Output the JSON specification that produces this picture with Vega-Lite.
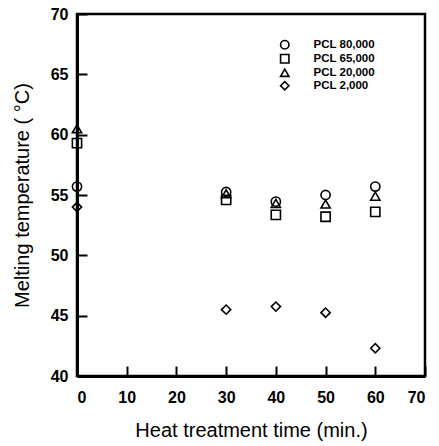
{
  "$schema": "https://vega.github.io/schema/vega-lite/v6.json",
  "autosize": {"type": "none"},
  "padding": {"left": 77, "top": 14, "right": 14, "bottom": 70},
  "width": 348,
  "height": 362,
  "background": "white",
  "config": {
    "view": {"stroke": "black", "strokeWidth": 2.5},
    "font": "Liberation Sans",
    "axis": {"grid": false, "domain": true, "domainColor": "black", "domainWidth": 3, "ticks": true, "tickColor": "black", "tickWidth": 2, "tickSize": -10, "labelColor": "black", "titleColor": "black", "zindex": 1}
  },
  "data": {
    "values": [
      {"time": 0, "tm": 55.7, "series": "PCL 80,000"},
      {"time": 30, "tm": 55.25, "series": "PCL 80,000"},
      {"time": 40, "tm": 54.45, "series": "PCL 80,000"},
      {"time": 50, "tm": 55.0, "series": "PCL 80,000"},
      {"time": 60, "tm": 55.7, "series": "PCL 80,000"},
      {"time": 0, "tm": 59.3, "series": "PCL 65,000"},
      {"time": 30, "tm": 54.6, "series": "PCL 65,000"},
      {"time": 40, "tm": 53.35, "series": "PCL 65,000"},
      {"time": 50, "tm": 53.2, "series": "PCL 65,000"},
      {"time": 60, "tm": 53.6, "series": "PCL 65,000"},
      {"time": 0, "tm": 60.5, "series": "PCL 20,000"},
      {"time": 30, "tm": 55.1, "series": "PCL 20,000"},
      {"time": 40, "tm": 54.3, "series": "PCL 20,000"},
      {"time": 50, "tm": 54.25, "series": "PCL 20,000"},
      {"time": 60, "tm": 54.9, "series": "PCL 20,000"},
      {"time": 0, "tm": 54.0, "series": "PCL 2,000"},
      {"time": 30, "tm": 45.5, "series": "PCL 2,000"},
      {"time": 40, "tm": 45.75, "series": "PCL 2,000"},
      {"time": 50, "tm": 45.25, "series": "PCL 2,000"},
      {"time": 60, "tm": 42.3, "series": "PCL 2,000"}
    ]
  },
  "mark": {"type": "point", "filled": false, "stroke": "black", "strokeWidth": 1.6, "size": 85, "opacity": 1, "clip": false},
  "encoding": {
    "x": {
      "field": "time", "type": "quantitative",
      "scale": {"domain": [0, 70], "nice": false},
      "axis": {"values": [0, 10, 20, 30, 40, 50, 60, 70], "labelPadding": 23, "labelFontSize": 16, "labelFontWeight": "bold", "title": "Heat treatment time (min.)", "titleFontSize": 20, "titleFontWeight": "normal", "titlePadding": 15}
    },
    "y": {
      "field": "tm", "type": "quantitative",
      "scale": {"domain": [40, 70], "nice": false, "zero": false},
      "axis": {"values": [40, 45, 50, 55, 60, 65, 70], "labelPadding": 19, "labelFontSize": 16, "labelFontWeight": "bold", "title": "Melting temperature ( °C)", "titleFontSize": 20, "titleFontWeight": "normal", "titlePadding": 18}
    },
    "shape": {
      "field": "series", "type": "nominal",
      "scale": {"domain": ["PCL 80,000", "PCL 65,000", "PCL 20,000", "PCL 2,000"], "range": ["circle", "square", "triangle-up", "diamond"]},
      "legend": {"title": null, "orient": "none", "legendX": 202, "legendY": 25, "labelFontSize": 11.5, "labelFontWeight": "bold", "labelColor": "black", "symbolStrokeColor": "black", "symbolFillColor": "transparent", "symbolStrokeWidth": 1.6, "symbolSize": 70, "rowPadding": -4, "labelOffset": 23}
    }
  }
}
